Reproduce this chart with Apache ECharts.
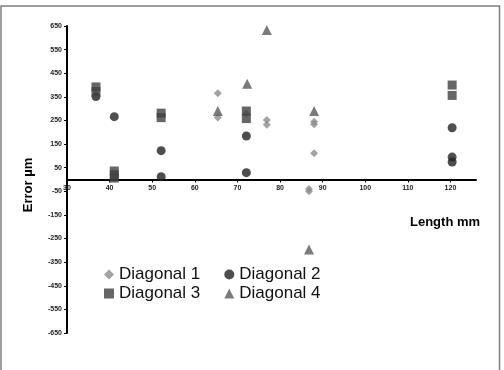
<!DOCTYPE html>
<html><head><meta charset="utf-8">
<script src="https://cdn.jsdelivr.net/npm/echarts@6/dist/echarts.min.js"></script>
<style>html,body{margin:0;padding:0;background:#fff}#c{width:504px;height:370px}</style>
</head><body><div id="c"></div>
<script>
const seriesNames = ['Diagonal 1', 'Diagonal 2', 'Diagonal 3', 'Diagonal 4'];
const diag1 = [[65.4, 365], [65.4, 263], [72.1, 280], [76.9, 252], [76.9, 232], [88.0, 245], [88.0, 234], [88.0, 111], [86.8, -40], [86.8, -50]];
const diag2 = [[36.8, 351], [41.1, 266], [52.1, 122], [52.1, 12], [72.1, 184], [72.1, 29], [120.4, 219], [120.4, 95], [120.4, 74]];
const diag3 = [[36.8, 392], [36.8, 372], [41.1, 36], [41.1, 20], [41.1, 6], [52.1, 281], [52.1, 262], [72.1, 290], [72.1, 258], [120.4, 400], [120.4, 356]];
const diag4 = [[65.4, 290], [72.3, 405], [76.9, 633], [88.0, 290], [86.8, -296]];
const xTicks = {min: 30, max: 126, interval: 10};
const yTicks = {min: -650, max: 650, interval: 100};

const chart = echarts.init(document.getElementById('c'));
const lbl = {fontFamily: 'Liberation Sans, Arial', fontSize: 7, fontWeight: 'bold', color: '#222'};
const gridTop = 26, gridBottom = 37, gridH = 370 - gridTop - gridBottom;
chart.setOption({
  animation: false,
  grid: {left: 67, right: 28, top: gridTop, bottom: gridBottom},
  xAxis: {
    type: 'value', min: xTicks.min, max: xTicks.max, interval: xTicks.interval,
    offset: -gridH / 2,
    axisLine: {onZero: false, lineStyle: {color: '#000', width: 2}},
    axisTick: {show: true, length: 3, lineStyle: {color: '#000'}},
    splitLine: {show: false},
    axisLabel: Object.assign({margin: 5, showMaxLabel: false}, lbl)
  },
  yAxis: {
    type: 'value', min: yTicks.min, max: yTicks.max, interval: yTicks.interval,
    axisLine: {show: true, onZero: false, lineStyle: {color: '#000', width: 2}},
    axisTick: {show: true, length: 3, lineStyle: {color: '#000'}},
    splitLine: {show: false},
    axisLabel: Object.assign({margin: 5}, lbl)
  },
  legend: [
    {data: [seriesNames[0], seriesNames[1]], left: 99, top: 261, itemGap: 24, itemWidth: 10, itemHeight: 10,
     textStyle: {fontFamily: 'Liberation Sans, Arial', fontSize: 17, color: '#111'}},
    {data: [seriesNames[2], seriesNames[3]], left: 99, top: 280, itemGap: 24, itemWidth: 10, itemHeight: 10,
     textStyle: {fontFamily: 'Liberation Sans, Arial', fontSize: 17, color: '#111'}}
  ],
  graphic: [
    {type: 'rect', shape: {x: 1, y: 6, width: 498.5, height: 370}, style: {fill: 'none', stroke: '#7f7f7f', lineWidth: 1.5}, silent: true},
    {type: 'text', x: 28, y: 185, rotation: Math.PI / 2, style: {text: 'Error µm', font: 'bold 13px Liberation Sans, Arial', fill: '#000', align: 'center', verticalAlign: 'middle'}},
    {type: 'text', x: 410, y: 222, style: {text: 'Length mm', font: 'bold 13px Liberation Sans, Arial', fill: '#000', align: 'left', verticalAlign: 'middle'}}
  ],
  series: [
    {name: seriesNames[0], type: 'scatter', data: diag1, symbol: 'diamond', symbolSize: 8, itemStyle: {color: '#8c8c8c'}},
    {name: seriesNames[1], type: 'scatter', data: diag2, symbol: 'circle', symbolSize: 9, itemStyle: {color: '#222222'}},
    {name: seriesNames[2], type: 'scatter', data: diag3, symbol: 'rect', symbolSize: 9, itemStyle: {color: '#404040'}},
    {name: seriesNames[3], type: 'scatter', data: diag4, symbol: 'triangle', symbolSize: 10, itemStyle: {color: '#5a5a5a'}}
  ]
});
</script></body></html>
